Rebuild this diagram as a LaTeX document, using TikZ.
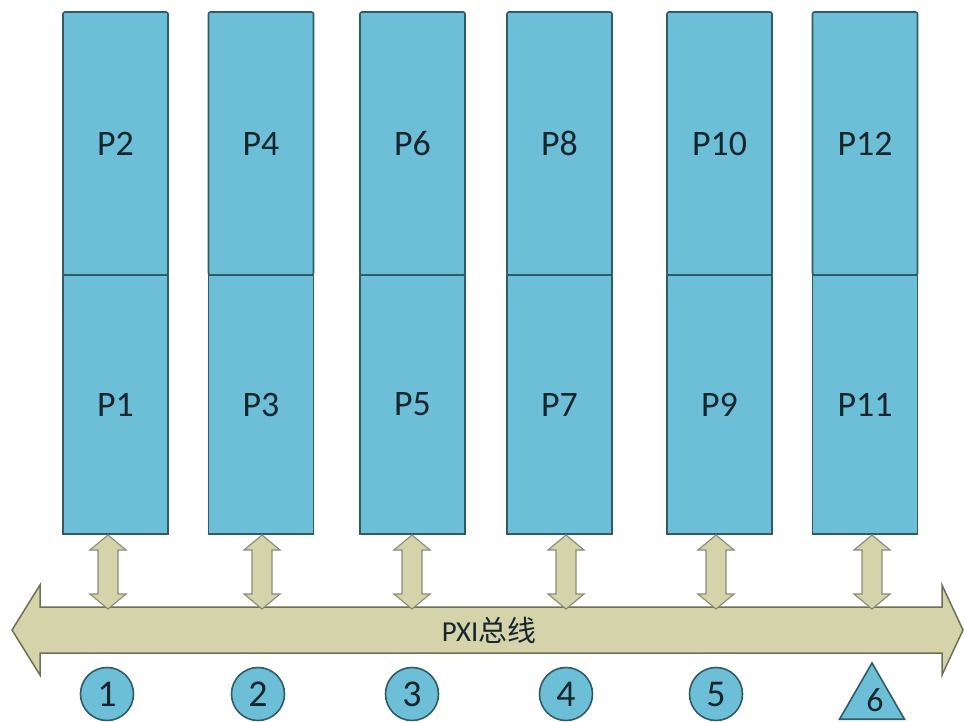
\documentclass[tikz,border=0pt]{standalone}
\usepackage{fontspec}
\setmainfont{Carlito}
\newfontfamily\cjk{Noto Sans CJK SC}
\usetikzlibrary{shapes.geometric}
\definecolor{boxfill}{HTML}{6CBFD6}
\definecolor{boxline}{HTML}{2F5C68}
\definecolor{busfill}{HTML}{D4D3AA}
\definecolor{busline}{HTML}{6F6F58}
\definecolor{txt}{HTML}{16262E}
\newcommand\fatarrow[3]{%
  \draw[smallarrow] (#1,#2) -- (#1+18,#2+15) -- (#1+10,#2+15) -- (#1+10,#3-15) -- (#1+18,#3-15) -- (#1,#3) -- (#1-18,#3-15) -- (#1-10,#3-15) -- (#1-10,#2+15) -- (#1-18,#2+15) -- cycle;}
\begin{document}
\begin{tikzpicture}[x=1bp,y=-1bp,
  pbox/.style={draw=boxline, fill=boxfill, line width=1.6bp, minimum width=105bp, inner sep=0pt, font=\fontsize{36}{40}\selectfont, text=txt},
  upbox/.style={pbox, minimum height=263bp, rounded corners=2bp},
  lowbox/.style={pbox, minimum height=259bp},
  smallarrow/.style={draw=busline!80, fill=busfill, line width=1.2bp, line join=miter},
  bus/.style={draw=busline, fill=busfill, line width=1.5bp, line join=miter},
  num/.style={circle, draw=boxline, fill=boxfill, line width=1.6bp, minimum size=53bp, inner sep=0pt, font=\fontsize{38}{40}\selectfont, text=txt},
  tri/.style={regular polygon, regular polygon sides=3, draw=boxline, fill=boxfill, line width=1.6bp, minimum size=75bp, inner sep=0pt},
  lbl/.style={font=\fontsize{29}{32}\selectfont, text=txt, inner sep=0pt}
]
\path[use as bounding box] (0,0) rectangle (965,722);
% bus
\draw[bus] (12,630) -- (40,585) -- (40,607) -- (942,607) -- (942,585) -- (963,630) -- (942,675) -- (942,653) -- (40,653) -- (40,675) -- cycle;
\node[lbl] (buslbl) at (489,630) {PXI{\cjk 总线}};
% boxes
\foreach \x/\up/\lo [count=\i] in {115.5/P2/P1, 261/P4/P3, 412.5/P6/P5, 559.5/P8/P7, 719.5/P10/P9, 865/P12/P11}{
  \node[lowbox] (lo\i) at (\x,404.5) {\lo};
  \node[upbox] (up\i) at (\x,143.5) {\up};
}
% small double arrows
\foreach \x in {108,262,412,566,716,872}{
  \fatarrow{\x}{535}{609}
}
% numbers
\foreach \x/\n [count=\i] in {107/1,258/2,412/3,566/4,716/5}{
  \node[num] (n\i) at (\x,694) {\n};
}
\node[tri] (n6) at (872,700.5) {};
\node[lbl, font=\fontsize{34}{36}\selectfont] (n6t) at (875,700) {6};
\end{tikzpicture}
\end{document}
